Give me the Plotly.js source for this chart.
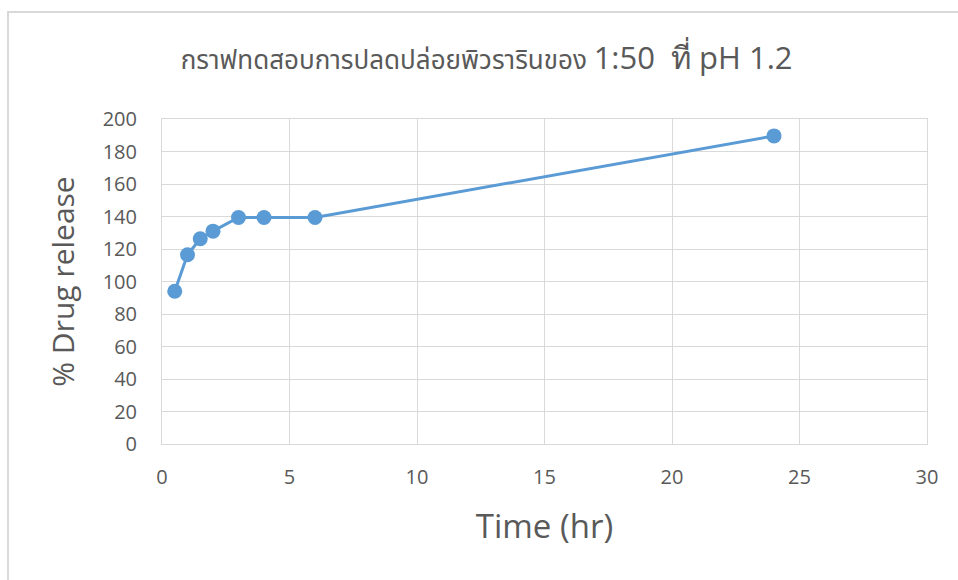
<!DOCTYPE html>
<html>
<head>
<meta charset="utf-8">
<script src="https://cdn.plot.ly/plotly-3.0.1.min.js"></script>
<style>html,body{margin:0;padding:0;background:#fff;}#chart{width:958px;height:580px;}</style>
</head>
<body>
<div id="chart"></div>
<script>
const timeHr = [0.5, 1, 1.5, 2, 3, 4, 6, 24];
const drugRelease = [94, 116.5, 126.3, 131, 139.4, 139.4, 139.4, 189.6];
const xTicks = [0, 5, 10, 15, 20, 25, 30];
const yTicks = [0, 20, 40, 60, 80, 100, 120, 140, 160, 180, 200];

const FONT = '"Open Sans", "Noto Sans", "DejaVu Sans", sans-serif';
const THAI = '"Noto Sans Thai", "Noto Sans Thai UI", "Leelawadee UI", Tahoma, "Open Sans", sans-serif';
const GRAY = '#595959';

const trace = {
  x: timeHr, y: drugRelease, type: 'scatter', mode: 'lines+markers',
  line: {color: '#5b9bd5', width: 3},
  marker: {color: '#5b9bd5', size: 15},
  showlegend: false, hoverinfo: 'x+y'
};

const layout = {
  width: 958, height: 580,
  paper_bgcolor: '#fff', plot_bgcolor: '#fff',
  margin: {l: 162, r: 31, t: 119, b: 136},
  font: {family: FONT, color: GRAY},
  title: {
    text: '<span style="font-family:' + THAI.replace(/"/g, "'") + '">กราฟทดสอบการปลดปล่อยพิวรารินของ</span> <span style="font-size:31px">1:50  ที่ pH 1.2</span>',
    font: {size: 26, color: GRAY, family: FONT},
    x: 0.508, xanchor: 'center', y: 0.896, yanchor: 'middle'
  },
  xaxis: {
    range: [0, 30], tickvals: xTicks, ticktext: xTicks.map(String),
    showgrid: true, gridcolor: '#d9d9d9', gridwidth: 1,
    zeroline: false, showline: true, linecolor: '#d9d9d9', mirror: true,
    ticks: '', ticklabelstandoff: 15,
    tickfont: {size: 20, color: GRAY, family: FONT},
    title: {text: 'Time (hr)', font: {size: 33, color: GRAY, family: FONT}, standoff: 25},
    fixedrange: true
  },
  yaxis: {
    range: [0, 200], tickvals: yTicks, ticktext: yTicks.map(String),
    showgrid: true, gridcolor: '#d9d9d9', gridwidth: 1,
    zeroline: false, showline: true, linecolor: '#d9d9d9', mirror: true,
    ticks: '', ticklabelstandoff: 20,
    tickfont: {size: 20, color: GRAY, family: FONT},
    title: {text: '% Drug release', font: {size: 30, color: GRAY, family: FONT}, standoff: 19},
    fixedrange: true
  },
  shapes: [
    {type: 'line', xref: 'paper', yref: 'paper', x0: -0.2013, x1: 1.05, y0: 1.329, y1: 1.329, line: {color: '#d9d9d9', width: 2}},
    {type: 'line', xref: 'paper', yref: 'paper', x0: -0.2013, x1: -0.2013, y0: 1.332, y1: -0.5, line: {color: '#d9d9d9', width: 2}}
  ]
};

Plotly.newPlot('chart', [trace], layout, {displayModeBar: false, staticPlot: true});
</script>
</body>
</html>
